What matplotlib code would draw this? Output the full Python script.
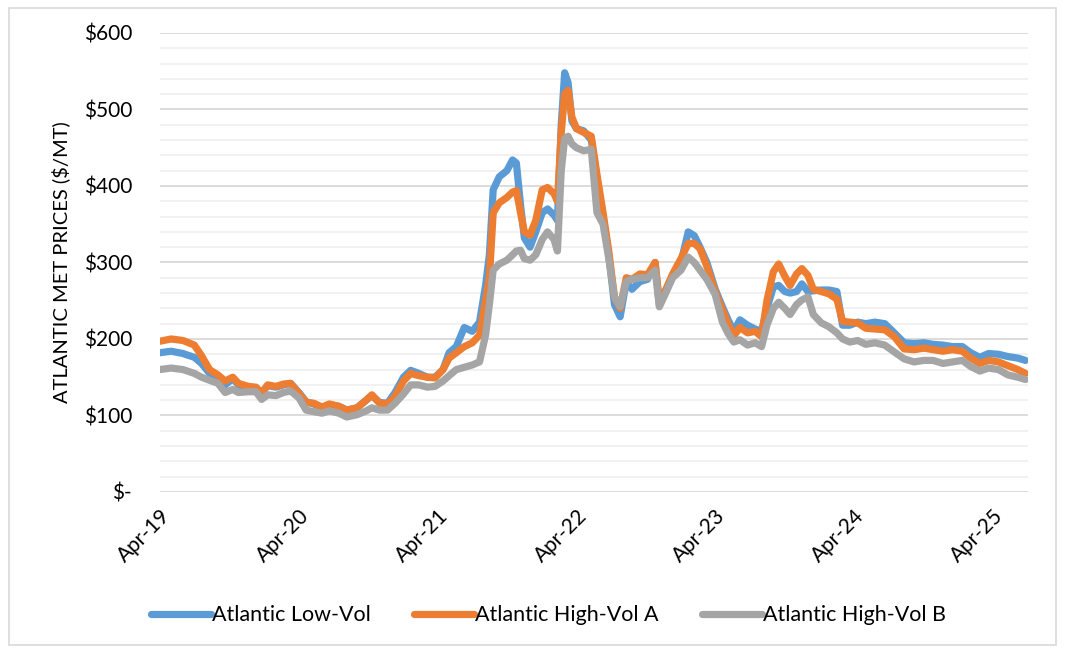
import matplotlib
matplotlib.use("Agg")
from matplotlib import pyplot as plt
import matplotlib.dates as mdates
from matplotlib.patches import Rectangle
from matplotlib.ticker import FuncFormatter, MultipleLocator
import numpy as np
import pandas as pd

plt.rcParams['font.family'] = ['Lato', 'DejaVu Sans']

# semi-monthly readings ($/MT)
dates = [
    '2019-04-01', '2019-05-01', '2019-06-01', '2019-07-01', '2019-07-20', '2019-08-10',
    '2019-09-01', '2019-09-20', '2019-10-10', '2019-10-25', '2019-11-20', '2019-12-10',
    '2019-12-25', '2020-01-10', '2020-02-01', '2020-02-20', '2020-03-10', '2020-04-01',
    '2020-04-20', '2020-05-10', '2020-06-01', '2020-06-20', '2020-07-15', '2020-08-05',
    '2020-09-01', '2020-09-25', '2020-10-10', '2020-10-30', '2020-11-20', '2020-12-10',
    '2021-01-01', '2021-01-20', '2021-02-10', '2021-03-05', '2021-03-25', '2021-04-15',
    '2021-05-01', '2021-05-20', '2021-06-10', '2021-07-01', '2021-07-20', '2021-08-05',
    '2021-08-15', '2021-08-25', '2021-09-10', '2021-09-30', '2021-10-15', '2021-10-25',
    '2021-11-05', '2021-11-15', '2021-11-30', '2021-12-15', '2022-01-01', '2022-01-15',
    '2022-02-01', '2022-02-10', '2022-02-20', '2022-03-01', '2022-03-10', '2022-03-20',
    '2022-04-01', '2022-04-20', '2022-05-10', '2022-05-25', '2022-06-10', '2022-06-25',
    '2022-07-10', '2022-07-25', '2022-08-10', '2022-08-25', '2022-09-15', '2022-10-05',
    '2022-10-25', '2022-11-05', '2022-11-20', '2022-12-10', '2023-01-01', '2023-01-20',
    '2023-02-05', '2023-02-20', '2023-03-10', '2023-04-01', '2023-04-20', '2023-05-05',
    '2023-05-20', '2023-06-05', '2023-06-25', '2023-07-15', '2023-08-01', '2023-08-15',
    '2023-09-01', '2023-09-15', '2023-10-01', '2023-10-15', '2023-11-01', '2023-11-15',
    '2023-12-01', '2023-12-15', '2024-01-05', '2024-01-25', '2024-02-15', '2024-03-01',
    '2024-03-20', '2024-04-10', '2024-05-01', '2024-05-25', '2024-06-20', '2024-07-15',
    '2024-08-10', '2024-09-05', '2024-10-01', '2024-10-25', '2024-11-20', '2024-12-15',
    '2025-01-10', '2025-02-01', '2025-02-25', '2025-03-20', '2025-04-15', '2025-05-10',
    '2025-06-05', '2025-06-25',
]

low_vol = [
    182, 184, 181, 176, 168, 155, 150, 140, 148, 140, 136, 136,
    130, 139, 137, 140, 142, 130, 118, 115, 110, 114, 112, 107,
    110, 120, 126, 117, 116, 130, 150, 159, 155, 150, 150, 160,
    182, 190, 215, 210, 222, 270, 310, 395, 412, 420, 434, 430,
    375, 332, 320, 340, 365, 370, 362, 355, 480, 548, 535, 485,
    475, 472, 460, 410, 360, 310, 245, 229, 275, 265, 275, 278,
    300, 245, 262, 283, 300, 340, 335, 320, 300, 265, 242, 225,
    210, 225, 218, 213, 210, 240, 268, 270, 262, 260, 262, 272,
    262, 263, 264, 264, 262, 218, 218, 222, 220, 222, 220, 208,
    195, 194, 195, 193, 192, 190, 190, 182, 176, 181, 180, 177,
    175, 172,
]

high_vol_a = [
    197, 200, 198, 192, 178, 160, 153, 145, 150, 142, 138, 137,
    129, 140, 138, 141, 142, 129, 117, 116, 111, 115, 112, 107,
    110, 120, 127, 116, 115, 125, 145, 155, 152, 150, 149, 160,
    175, 182, 190, 195, 205, 250, 280, 365, 378, 385, 392, 394,
    365, 340, 336, 355, 395, 398, 390, 380, 470, 520, 525, 490,
    475, 470, 465, 415, 365, 315, 255, 240, 280, 278, 285, 284,
    300, 248, 262, 285, 305, 325, 325, 318, 295, 262, 238, 220,
    204, 215, 208, 210, 203, 250, 288, 298, 282, 270, 285, 292,
    283, 265, 262, 259, 252, 223, 222, 221, 214, 213, 212, 203,
    187, 186, 188, 186, 184, 186, 184, 175, 168, 172, 170, 165,
    160, 155,
]

high_vol_b = [
    160, 162, 160, 155, 150, 146, 142, 130, 134, 130, 131, 131,
    121, 127, 126, 130, 132, 123, 107, 105, 103, 106, 103, 98,
    101, 106, 110, 107, 107, 116, 128, 140, 140, 137, 138, 145,
    152, 160, 163, 166, 170, 205, 245, 290, 298, 303, 310, 315,
    316, 305, 303, 310, 330, 340, 330, 315, 420, 462, 465, 455,
    450, 446, 448, 365, 350, 305, 255, 242, 275, 278, 280, 280,
    290, 242, 258, 280, 290, 307, 300, 290, 278, 258, 222, 207,
    196, 199, 192, 195, 190, 218, 240, 248, 240, 232, 245, 251,
    255, 232, 221, 216, 208, 200, 196, 198, 193, 195, 192, 183,
    174, 170, 172, 172, 168, 170, 172, 164, 158, 162, 160, 153,
    150, 147,
]

series_names = ['Atlantic Low-Vol', 'Atlantic High-Vol A', 'Atlantic High-Vol B']
series_colors = ['#5B9BD5', '#ED7D31', '#A5A5A5']

x = pd.to_datetime(dates)

fig = plt.figure(figsize=(10.65, 6.53), dpi=100)
ax = fig.add_axes([0.150, 0.2466, 0.815, 0.7029])

for vals, name, col in zip([low_vol, high_vol_a, high_vol_b], series_names, series_colors):
    ax.plot(x, vals, color=col, lw=5.2, label=name,
            solid_joinstyle='round', solid_capstyle='round')

ax.set_ylim(0, 600)
ax.set_xlim(pd.Timestamp('2019-04-01'), pd.Timestamp('2025-07-01'))
ax.yaxis.set_major_locator(MultipleLocator(100))
ax.yaxis.set_minor_locator(MultipleLocator(20))
ax.yaxis.set_major_formatter(FuncFormatter(lambda v, p: '$-' if v == 0 else f'${v:.0f}'))
ax.grid(axis='y', which='major', color='#D9D9D9', lw=1.3)
ax.grid(axis='y', which='minor', color='#F0F0F0', lw=1.3)
ax.set_axisbelow(True)

ax.xaxis.set_major_locator(mdates.MonthLocator(bymonth=4))
ax.xaxis.set_major_formatter(mdates.DateFormatter('%b-%y'))
ax.tick_params(axis='both', which='both', length=0, labelsize=15, colors='#000000')
ax.tick_params(axis='y', pad=20)
ax.tick_params(axis='x', pad=10)
for lab in ax.get_xticklabels():
    lab.set_rotation(45)
    lab.set_ha('right')
    lab.set_rotation_mode('anchor')
for s in ax.spines.values():
    s.set_visible(False)

ax.set_ylabel('ATLANTIC MET PRICES ($/MT)', fontsize=14.5, labelpad=10)

fig.legend(loc='center', bbox_to_anchor=(0.515, 0.058), ncol=3, frameon=False,
           fontsize=15.5, handlelength=2.8, handletextpad=0.05, columnspacing=2.0)

fig.patches.append(Rectangle((0.008, 0.012), 0.984, 0.975, transform=fig.transFigure,
                             fill=False, edgecolor='#D9D9D9', lw=1.2))

fig.savefig('out.png', dpi=100)
